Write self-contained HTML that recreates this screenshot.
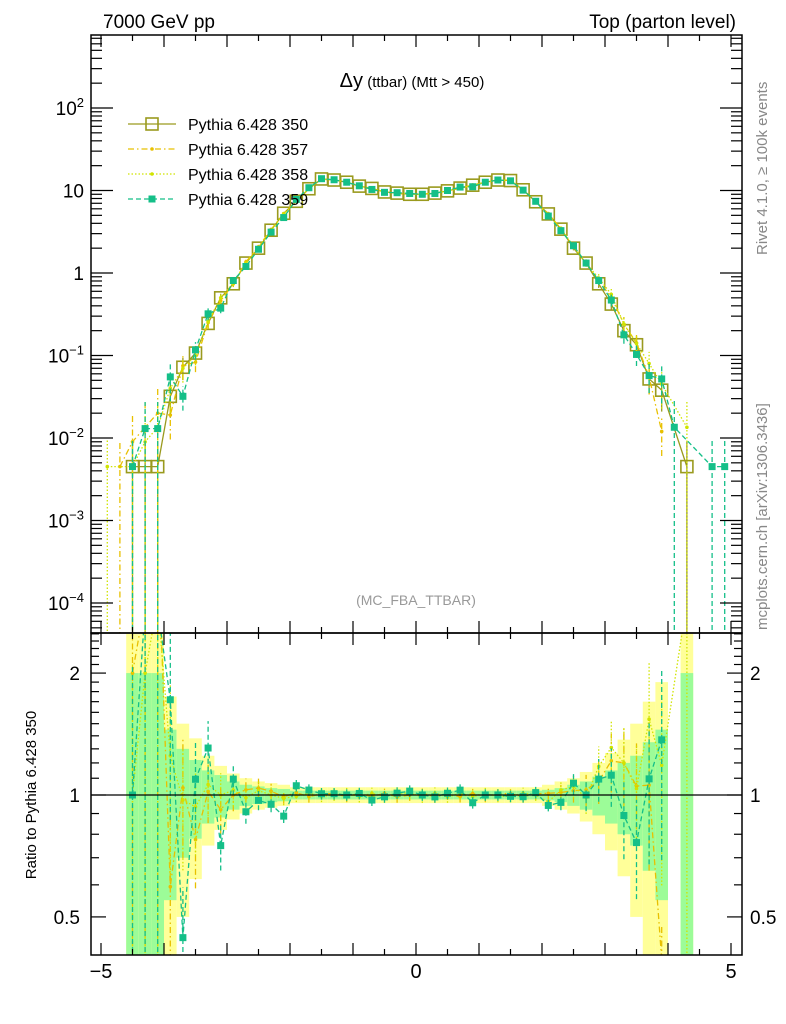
<!DOCTYPE html>
<html><head><meta charset="utf-8"><style>
html,body{margin:0;padding:0;background:#fff;font-family:"Liberation Sans",sans-serif;overflow:hidden;width:786px;height:1024px}
svg{display:block}
svg text{font-family:"Liberation Sans","DejaVu Sans",sans-serif}
</style></head><body>
<svg id="c" width="786" height="1024" xmlns="http://www.w3.org/2000/svg">
<defs>
<clipPath id="cm"><rect x="91" y="35" width="651" height="598"/></clipPath>
<clipPath id="cr"><rect x="91" y="633" width="651" height="322"/></clipPath>
</defs>
<g id="bands" clip-path="url(#cr)"></g>
<g id="main" clip-path="url(#cm)"></g>
<g id="ratio" clip-path="url(#cr)"></g>
<g id="axes"></g>
<text x="103" y="28" font-size="19">7000 GeV pp</text>
<text x="736" y="28" font-size="19" text-anchor="end">Top (parton level)</text>
<text x="412" y="87" font-size="15" text-anchor="middle"><tspan font-size="20">Δy</tspan> (ttbar) (Mtt &gt; 450)</text>
<text x="416" y="605" font-size="14" fill="#999" text-anchor="middle">(MC_FBA_TTBAR)</text>
<text transform="translate(767,255) rotate(-90)" font-size="15" fill="#888">Rivet 4.1.0, ≥ 100k events</text>
<text transform="translate(767,630) rotate(-90)" font-size="15" fill="#888">mcplots.cern.ch [arXiv:1306.3436]</text>
<text transform="translate(36,795) rotate(-90)" font-size="15" text-anchor="middle">Ratio to Pythia 6.428 350</text>
<g id="legend"></g>
</svg>
<script>
const centers=[];for(let i=0;i<50;i++)centers.push(+(-4.9+0.2*i).toFixed(1));
const ref350=[0,0,0.0045,0.0045,0.0045,0.032,0.072,0.107,0.245,0.50,0.74,1.32,2.0,3.3,5.3,7.4,10.5,13.8,13.4,12.6,11.3,10.6,9.6,9.3,9.0,9.0,9.3,9.9,10.7,11.6,12.6,13.4,13.2,10.2,7.3,5.2,3.4,2.0,1.32,0.74,0.42,0.20,0.135,0.052,0.038,0,0.0045,0,0,0];
const s357=[0,0.0045,0.009,0.0135,0.02,0.019,0.075,0.083,0.25,0.46,0.74,1.36,2.08,3.37,5.25,7.5,10.4,13.9,13.5,12.5,11.4,10.5,9.7,9.2,9.0,9.1,9.2,9.95,10.6,11.7,12.5,13.5,13.3,10.1,7.35,5.25,3.45,2.05,1.36,0.8,0.51,0.24,0.142,0.055,0.012,0,0,0,0,0];
const s358=[0.0045,0,0.0045,0.009,0.0135,0.04,0.07,0.1,0.26,0.5,0.76,1.3,2.05,3.3,5.2,7.35,10.6,13.7,13.4,12.7,11.2,10.7,9.5,9.4,9.1,8.9,9.4,9.8,10.8,11.5,12.7,13.3,13.1,10.3,7.3,5.0,3.5,2.1,1.3,0.87,0.55,0.24,0.14,0.08,0.045,0,0.0135,0,0,0];
const s359=[0,0,0.0045,0.013,0.013,0.055,0.032,0.117,0.32,0.375,0.81,1.2,1.94,3.13,4.7,7.8,10.8,13.9,13.5,12.6,11.4,10.3,9.5,9.4,9.2,9.0,9.2,10.0,11.0,11.1,12.6,13.4,13.1,10.1,7.4,4.9,3.26,2.14,1.32,0.81,0.47,0.178,0.103,0.057,0.052,0.0135,0,0,0.0045,0.0045];
const errG=[0,0,1,1,1,.45,.3,.22,.15,.12,.08,.06,.05,.04,.035,.025,.025,.025,.025,.025,.025,.025,.025,.025,.025,.025,.025,.025,.025,.025,.025,.025,.025,.025,.025,.03,.04,.06,.08,.11,.15,.2,.25,.35,.45,0,1,0,0,0];
const errY=[0,0,1.5,1.5,1.5,.75,.5,.38,.25,.18,.13,.1,.08,.07,.06,.045,.045,.045,.045,.045,.045,.045,.045,.045,.045,.045,.045,.045,.045,.045,.045,.045,.045,.045,.045,.06,.08,.1,.14,.2,.27,.37,.5,.7,.9,0,1.5,0,0,0];
const xTicks=[-5,0,5];
const yMainTicks=[2,1,0,-1,-2,-3,-4];
const ratioTicks=[0.5,1,2];

const NS="http://www.w3.org/2000/svg";
function el(t,a,p){const e=document.createElementNS(NS,t);for(const k in a)e.setAttribute(k,a[k]);p.appendChild(e);return e;}
const X=v=>416+63*v;
const YM=v=>108+82.5*(2-Math.log10(v));
const YR=r=>795-405*Math.log10(r);
const L=91,R=742,T=35,MB=633,B=955;
const main=document.getElementById('main'),ratio=document.getElementById('ratio'),bands=document.getElementById('bands'),axes=document.getElementById('axes'),legend=document.getElementById('legend');
const clampM=y=>Math.min(y,MB+5), clampR=y=>Math.min(Math.max(y,T),B+5);

for(let i=0;i<50;i++){
  [[errY,'#ffff99'],[errG,'#9cfc98']].forEach(([arr,col])=>{
    const e=arr[i];if(!e)return;
    const lo=1-e>0.01?Math.min(YR(1-e),B):B;const hi=Math.max(YR(1+e),MB);
    const r=el('rect',{x:X(centers[i]-0.1),y:hi,width:12.6,height:Math.max(0,lo-hi),fill:col},bands);
    
    
  });
}
const series=[
 {v:ref350,c:'#9a9a1e',dash:'',m:'sq',name:'Pythia 6.428 350'},
 {v:s357,c:'#e8c000',dash:'6 3 1.5 3',m:'dot',name:'Pythia 6.428 357'},
 {v:s358,c:'#d0e400',dash:'1.5 2',m:'dot',name:'Pythia 6.428 358'},
 {v:s359,c:'#14bf88',dash:'5 3',m:'fsq',name:'Pythia 6.428 359'}];
function marker(m,x,y,c,p){
  let e;
  if(m==='sq')e=el('rect',{x:x-6,y:y-6,width:12,height:12,fill:'none',stroke:c,'stroke-width':1.6},p);
  else if(m==='fsq')e=el('rect',{x:x-3.5,y:y-3.5,width:7,height:7,fill:c},p);
  else e=el('circle',{cx:x,cy:y,r:1.8,fill:c},p);
  return e;
}
series.forEach((s,si)=>{
  const g=el('g',{},main);
  
  
  const gr=el('g',{},ratio);
  
  
  let pts=[],rpts=[];
  s.v.forEach((v,i)=>{
    if(v<=0)return;
    const x=X(centers[i]),y=YM(v);
    const re=(ref350[i]>0?Math.max(errG[i],0.03):1)*(si===0?1:1.1);
    const lo=v*(1-re)>0?clampM(YM(v*(1-re))):MB+5, hi=YM(v*(1+re));
    el('line',{x1:x,y1:lo,x2:x,y2:hi,stroke:s.c,'stroke-width':1.3,'stroke-dasharray':s.dash},g);
    pts.push(x+','+y);
    if(si>0&&ref350[i]>0){
      const r=v/ref350[i];const yr=YR(r);
      const rlo=r*(1-re)>0.01?clampR(YR(r*(1-re))):B+5,rhi=clampR(YR(r*(1+re)));
      el('line',{x1:x,y1:rlo,x2:x,y2:rhi,stroke:s.c,'stroke-width':1.3,'stroke-dasharray':s.dash},gr);
      rpts.push([x,clampR(yr)]);
    }
  });
  el('polyline',{points:pts.join(' '),fill:'none',stroke:s.c,'stroke-width':1.3,'stroke-dasharray':s.dash},g);
  s.v.forEach((v,i)=>{if(v<=0)return;const m=marker(s.m,X(centers[i]),YM(v),s.c,g);
    
    });
  if(si>0){
    el('polyline',{points:rpts.map(p=>p.join(',')).join(' '),fill:'none',stroke:s.c,'stroke-width':1.3,'stroke-dasharray':s.dash},gr);
    rpts.forEach(p=>{const m=marker(s.m,p[0],p[1],s.c,gr);
      
      });
  }
  const ly=124+25*si;
  const lg=el('g',{},legend);
  
  
  el('line',{x1:128,y1:ly,x2:176,y2:ly,stroke:s.c,'stroke-width':1.3,'stroke-dasharray':s.dash},lg);
  marker(s.m,152,ly,s.c,lg);
  const t=el('text',{x:188,y:ly+6,'font-size':16},lg);t.textContent=s.name;
});
el('line',{x1:L,y1:YR(1),x2:R,y2:YR(1),stroke:'#000','stroke-width':1.3},ratio);
[[T,MB],[MB,B]].forEach(([a,b])=>{el('rect',{x:L,y:a,width:R-L,height:b-a,fill:'none',stroke:'#000','stroke-width':1.5},axes);});
for(let k=-10;k<=10;k++){const v=k*0.5,x=X(v);if(x<L||x>R)continue;const len=k%2===0?12:6;
  [[T,1],[MB,-1],[MB,1],[B,-1]].forEach(([y0,d])=>el('line',{x1:x,y1:y0,x2:x,y2:y0+d*len,stroke:'#000','stroke-width':1.2},axes));}
xTicks.forEach(v=>{const t=el('text',{x:X(v),y:978,'font-size':20,'text-anchor':'middle'},axes);t.textContent=v<0?'−'+Math.abs(v):String(v);
  
  });
for(let d=-5;d<=2;d++)for(let m=1;m<=9;m++){const v=m*Math.pow(10,d),y=YM(v);if(y<T||y>MB)continue;const len=m===1?22:11;
  el('line',{x1:L,y1:y,x2:L+len,y2:y,stroke:'#000','stroke-width':1.2},axes);
  el('line',{x1:R,y1:y,x2:R-len,y2:y,stroke:'#000','stroke-width':1.2},axes);}
yMainTicks.forEach(d=>{const y=YM(Math.pow(10,d));
  const t=el('text',{x:84,y:y+7,'font-size':19,'text-anchor':'end'},axes);
  
  
  if(d===0)t.textContent='1';else if(d===1)t.textContent='10';
  else{t.textContent='10';const s=el('tspan',{dy:-8,'font-size':13},t);s.textContent=d<0?'−'+(-d):String(d);}});
const rt=[0.4,0.5,0.6,0.7,0.8,0.9,1,1.1,1.2,1.3,1.4,1.5,1.6,1.7,1.8,1.9,2,2.1,2.2,2.3,2.4,2.5];
rt.forEach(r=>{const y=YR(r);if(y<MB||y>B)return;const len=ratioTicks.includes(r)?15:8;
  el('line',{x1:L,y1:y,x2:L+len,y2:y,stroke:'#000','stroke-width':1.2},axes);
  el('line',{x1:R,y1:y,x2:R-len,y2:y,stroke:'#000','stroke-width':1.2},axes);});
ratioTicks.forEach(r=>{const y=YR(r);
  const t=el('text',{x:80,y:y+7,'font-size':19,'text-anchor':'end'},axes);t.textContent=String(r);
  
  
  const t2=el('text',{x:750,y:y+7,'font-size':19},axes);t2.textContent=String(r);
  
  });
</script>
</body></html>
